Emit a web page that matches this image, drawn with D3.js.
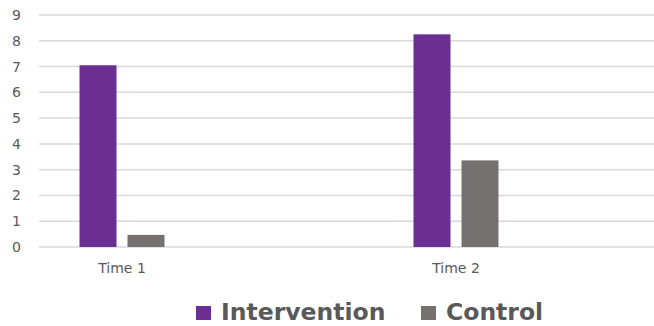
<!DOCTYPE html>
<html>
<head>
<meta charset="utf-8">
<script src="https://cdn.jsdelivr.net/npm/d3@7"></script>
<style>
  html, body { margin: 0; padding: 0; background: #fff; }
  svg { display: block; }
</style>
</head>
<body>
<svg id="chart" width="654" height="326"></svg>
<script>
// Chart data
const categories = ["Time 1", "Time 2"];
const seriesNames = ["Intervention", "Control"];
const intervention = [7.05, 8.25];
const control = [0.47, 3.36];
const yTicks = [0, 1, 2, 3, 4, 5, 6, 7, 8, 9];

const colors = { "Intervention": "#6b2f93", "Control": "#767171" };
const values = { "Intervention": intervention, "Control": control };

const svg = d3.select("#chart");
const plot = { left: 39, right: 654, top: 15, bottom: 247 };

const y = d3.scaleLinear().domain([0, 9]).range([plot.bottom, plot.top]);

const x = d3.scaleBand().domain(categories).range([-45, 623]);
const xs = d3.scaleBand().domain(seriesNames)
  .range([x.bandwidth() / 2 - 42.5, x.bandwidth() / 2 + 42.5])
  .paddingInner(0.229);

// Horizontal gridlines
svg.append("g").selectAll("line").data(yTicks).join("line")
  .attr("x1", plot.left).attr("x2", plot.right)
  .attr("y1", d => y(d)).attr("y2", d => y(d))
  .attr("stroke", "#d9d9d9").attr("stroke-width", 1.5);

// Y axis labels
const yAxis = d3.axisLeft(y).tickValues(yTicks).tickSize(0).tickPadding(0);
const gy = svg.append("g").attr("transform", "translate(21,0)").call(yAxis);
gy.select(".domain").remove();
gy.selectAll("text")
  .attr("fill", "#595959")
  .style("font-family", "'DejaVu Sans', sans-serif")
  .style("font-size", "14px");

// Bars
const groups = svg.append("g").selectAll("g").data(categories).join("g")
  .attr("transform", d => `translate(${x(d)},0)`);

groups.selectAll("rect")
  .data((d, i) => seriesNames.map(s => ({ s, v: values[s][i] })))
  .join("rect")
  .attr("x", d => xs(d.s))
  .attr("width", xs.bandwidth())
  .attr("y", d => y(d.v))
  .attr("height", d => y(0) - y(d.v))
  .attr("fill", d => colors[d.s]);

// X axis labels
const xAxis = d3.axisBottom(x).tickSize(0).tickPadding(0);
const gx = svg.append("g").attr("transform", "translate(0,263)").call(xAxis);
gx.select(".domain").remove();
gx.selectAll("text")
  .attr("fill", "#595959")
  .style("font-family", "'DejaVu Sans', sans-serif")
  .style("font-size", "14px");

// Legend
const legendX = [196, 421];
const legend = svg.append("g").selectAll("g").data(seriesNames).join("g")
  .attr("transform", (d, i) => `translate(${legendX[i]},0)`);
legend.append("rect")
  .attr("x", 0).attr("y", 306).attr("width", 15).attr("height", 14)
  .attr("fill", d => colors[d]);
legend.append("text")
  .attr("x", 25).attr("y", 320)
  .attr("fill", "#595959")
  .style("font-family", "'DejaVu Sans', sans-serif")
  .style("font-weight", "bold")
  .style("font-size", "23.5px")
  .text(d => d);
</script>
</body>
</html>
